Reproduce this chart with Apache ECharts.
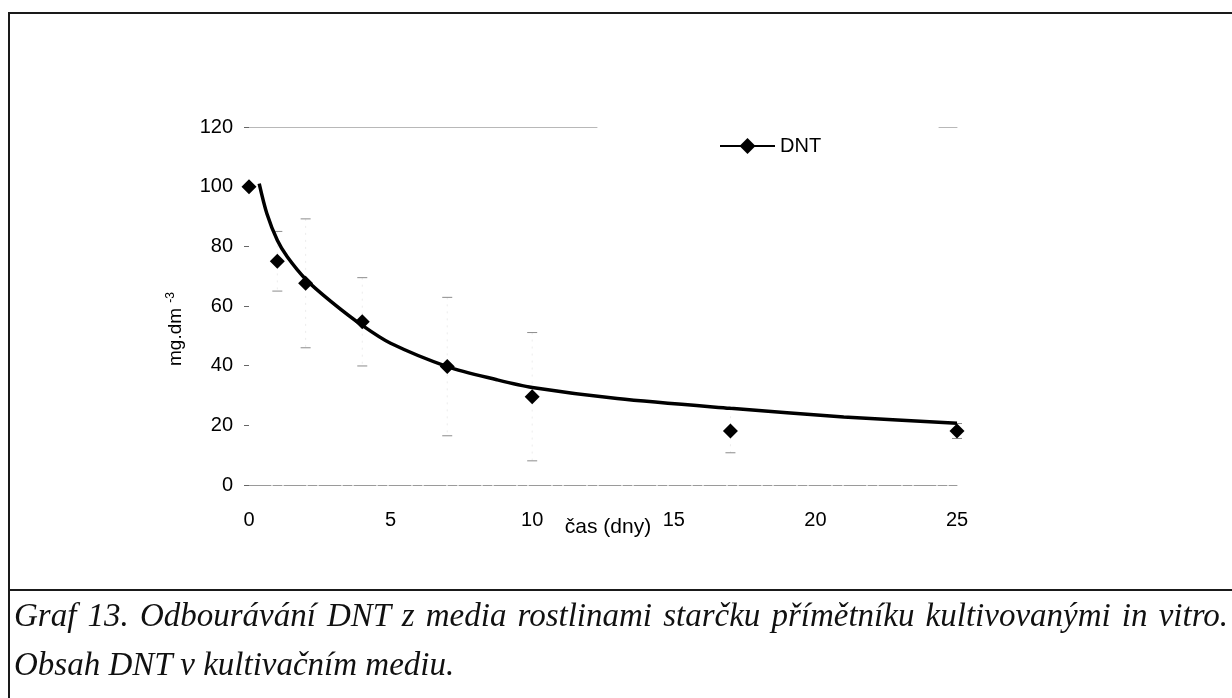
<!DOCTYPE html>
<html>
<head>
<meta charset="utf-8">
<script src="https://cdn.jsdelivr.net/npm/echarts@6/dist/echarts.min.js"></script>
<style>
  html, body { margin: 0; padding: 0; background: #fff; }
  #wrap { position: relative; width: 1232px; height: 698px; overflow: hidden; }
  #chart { position: absolute; left: 0; top: 0; width: 1232px; height: 698px; }
  .frame-top { position: absolute; left: 8px; top: 12px; width: 1224px; height: 0; border-top: 2px solid #1a1a1a; }
  .frame-left { position: absolute; left: 8px; top: 12px; width: 0; height: 686px; border-left: 2px solid #1a1a1a; }
  .frame-sep { position: absolute; left: 8px; top: 589px; width: 1224px; height: 0; border-top: 2px solid #1a1a1a; }
  .caption { position: absolute; left: 14px; width: 1214px; font-family: "Liberation Serif", "Times New Roman", serif;
             font-style: italic; font-size: 33px; line-height: 38px; color: #111; white-space: nowrap; }
  .cap1 { top: 596px; text-align: justify; text-align-last: justify; white-space: normal; }
  .cap2 { top: 645px; }
</style>
</head>
<body>
<div id="wrap">
  <div id="chart"></div>
  <div class="frame-top"></div>
  <div class="frame-left"></div>
  <div class="frame-sep"></div>
  <div class="caption cap1">Graf 13. Odbourávání DNT z media rostlinami starčku přímětníku kultivovanými in vitro.</div>
  <div class="caption cap2">Obsah DNT v kultivačním mediu.</div>
</div>
<script>
// Measured DNT content (mg.dm-3) over time (days) with standard deviations
const days = [0, 1, 2, 4, 7, 10, 17, 25];
const dnt = [100, 75, 67.6, 54.7, 39.7, 29.6, 18.1, 18.1];
const dntSd = [0, 10, 21.6, 14.8, 23.2, 21.5, 7.3, 2.5];

// Fitted trend curve, sampled along the time axis
const trendDays = [0.36, 0.63, 1, 1.35, 2, 2.9, 4, 5, 7, 8.75, 10, 13, 17, 21, 25];
const trendVals = [101, 91, 82, 76.5, 69, 61.5, 53.5, 47.5, 39.7, 35.3, 32.7, 29, 25.7, 22.8, 20.7];

// Axis ranges
const xMin = 0, xMax = 25, xStep = 5;
const yMin = 0, yMax = 120, yStep = 20;

const seriesName = 'DNT';
const xName = 'čas (dny)';
const yName = 'mg.dm';
const yNameSup = '-3';

const pointData = days.map((d, i) => [d, dnt[i]]);
const errData = days.map((d, i) => [d, dnt[i] - dntSd[i], dnt[i] + dntSd[i]]);
const trendData = trendDays.map((d, i) => [d, trendVals[i]]);

const sans = '"Liberation Sans", Arial, sans-serif';

const chart = echarts.init(document.getElementById('chart'), null, { renderer: 'canvas' });

chart.setOption({
  animation: false,
  backgroundColor: '#fff',
  grid: { left: 249, right: 275, top: 127, bottom: 213, containLabel: false },
  legend: {
    left: 714, top: 131,
    itemWidth: 55, itemHeight: 20, itemGap: 10,
    textStyle: { fontFamily: sans, fontSize: 20, color: '#000' },
    data: [{ name: seriesName, lineStyle: { color: '#000', width: 2, opacity: 1 } }]
  },
  xAxis: [
    {
      type: 'value', min: xMin, max: xMax, interval: xStep,
      name: xName, nameLocation: 'middle', nameGap: 32, nameMoveOverlap: false,
      nameTextStyle: { fontFamily: sans, fontSize: 21, color: '#000', padding: [0, 0, 0, 10] },
      axisLine: { show: true, onZero: false, lineStyle: { color: '#9a9a9a', width: 1, type: [22, 2, 9, 2] } },
      axisTick: { show: false },
      axisLabel: { fontFamily: sans, fontSize: 20, color: '#000', margin: 25 },
      splitLine: { show: false }
    },
    {
      // faded upper border of the plot area
      type: 'value', min: xMin, max: xMax, position: 'top',
      axisLine: { show: true, onZero: false, lineStyle: { color: '#b8b8b8', width: 1, type: [348, 342, 18, 2000] } },
      axisTick: { show: false }, axisLabel: { show: false }, splitLine: { show: false }
    }
  ],
  yAxis: {
    type: 'value', min: yMin, max: yMax, interval: yStep,
    name: '{m|' + yName + ' }{s|' + yNameSup + '}',
    nameLocation: 'middle', nameRotate: 90, nameGap: 62,
    nameTextStyle: {
      color: '#000', padding: [0, 46, 0, 0],
      rich: {
        m: { fontFamily: sans, fontSize: 19, color: '#000' },
        s: { fontFamily: sans, fontSize: 12, color: '#000', verticalAlign: 'top', padding: [0, 0, 10, 0] }
      }
    },
    axisLine: { show: false },
    axisTick: { show: true, length: 5, lineStyle: { color: '#666', width: 1 } },
    axisLabel: { fontFamily: sans, fontSize: 20, color: '#000', margin: 16 },
    splitLine: { show: false }
  },
  series: [
    {
      // faint error bars (standard deviation)
      type: 'custom', silent: true, z: 1,
      data: errData,
      encode: { x: 0, y: [1, 2] },
      renderItem: function (params, api) {
        const x = api.value(0);
        const lo = api.coord([x, api.value(1)]);
        const hi = api.coord([x, api.value(2)]);
        const cap = 5;
        if (Math.abs(lo[1] - hi[1]) < 1) return null;
        return {
          type: 'group',
          children: [
            { type: 'line', shape: { x1: hi[0], y1: hi[1], x2: lo[0], y2: lo[1] },
              style: { stroke: '#ececec', lineWidth: 1, lineDash: [2, 5] } },
            { type: 'line', shape: { x1: hi[0] - cap, y1: hi[1], x2: hi[0] + cap, y2: hi[1] },
              style: { stroke: '#8c8c8c', lineWidth: 1 } },
            { type: 'line', shape: { x1: lo[0] - cap, y1: lo[1], x2: lo[0] + cap, y2: lo[1] },
              style: { stroke: '#8c8c8c', lineWidth: 1 } }
          ]
        };
      }
    },
    {
      name: 'trend', type: 'line', z: 3,
      data: trendData, smooth: 0.3,
      showSymbol: false, symbol: 'none',
      lineStyle: { color: '#000', width: 3.5 }
    },
    {
      name: seriesName, type: 'line', z: 4,
      data: pointData,
      symbol: 'diamond', symbolSize: 15, showSymbol: true,
      itemStyle: { color: '#000' },
      lineStyle: { width: 0, opacity: 0 }
    }
  ]
});
</script>
</body>
</html>
